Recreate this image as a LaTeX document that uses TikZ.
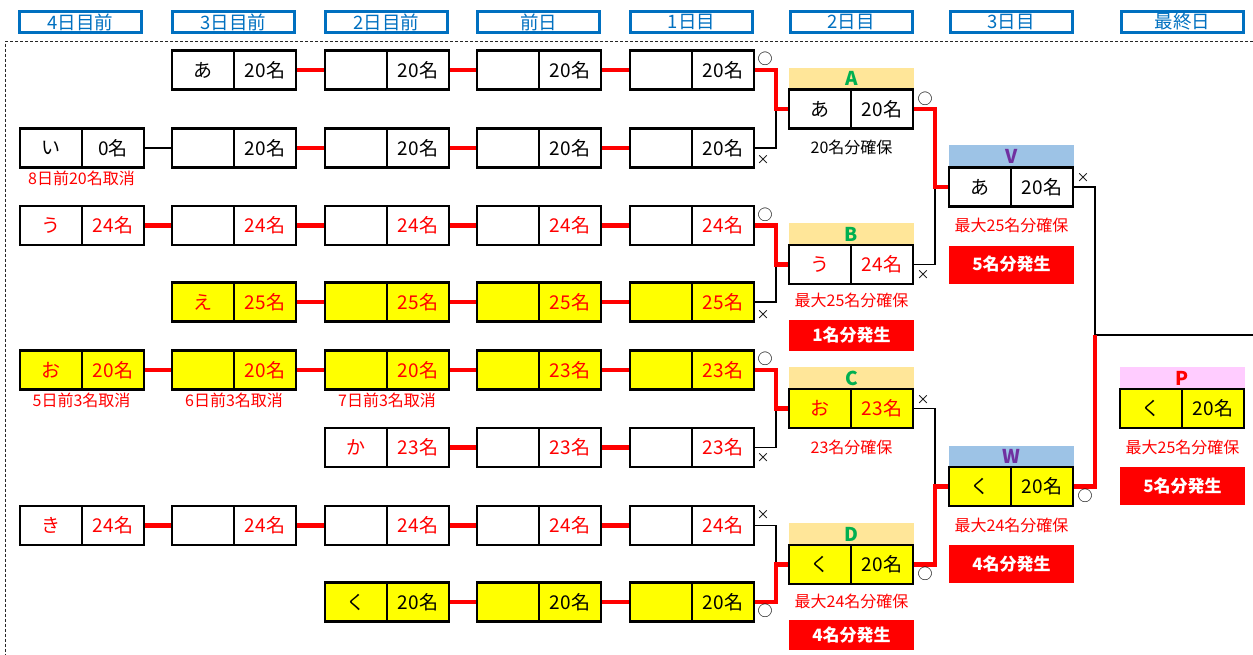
\documentclass[tikz,border=0pt]{standalone}
\usepackage{fontspec}
\setmainfont{Noto Sans CJK JP}
\definecolor{hblue}{HTML}{0070C0}
\definecolor{cyel}{HTML}{FFFF00}
\definecolor{hgold}{HTML}{FFE699}
\definecolor{hsky}{HTML}{9DC3E6}
\definecolor{hpink}{HTML}{FFCCFF}
\definecolor{lgreen}{HTML}{00B050}
\definecolor{lpurple}{HTML}{7030A0}
\definecolor{cred}{HTML}{FF0000}
\tikzset{
  cell/.style={draw=black, line width=2.2pt, minimum width=62pt, minimum height=39pt, inner sep=0pt, font=\fontsize{19}{21}\selectfont},
  hdr/.style={draw=hblue, line width=3pt, minimum width=122pt, minimum height=21pt, inner sep=0pt, text=hblue, font=\fontsize{18.5}{20}\selectfont},
  rhdr/.style={minimum width=125pt, minimum height=22pt, inner sep=0pt, font=\bfseries\fontsize{19}{20}\selectfont},
  result/.style={fill=cred, text=white, minimum width=125pt, inner sep=0pt, font=\bfseries\fontsize{17}{19}\selectfont},
  note/.style={inner sep=0pt, font=\fontsize{16}{18}\selectfont},
  okmark/.style={inner sep=0pt, font=\fontsize{15}{17}\selectfont},
  ngmark/.style={inner sep=0pt, font=\fontsize{13}{15}\selectfont},
  redc/.style={draw=cred, line width=4.5pt},
  blkc/.style={draw=black, line width=1.6pt}
}
\newcommand{\tbox}[7]{%
  \node[cell,fill=#4,text=#5] (#1L) at ({#2+31},#3) {#6};
  \node[cell,fill=#4,text=#5] (#1R) at ({#2+93},#3) {#7};}
\begin{document}
\begin{tikzpicture}[x=1pt,y=-1pt]
\useasboundingbox (0,0) rectangle (1253,654);
% dashed frame
\draw[black!85, line width=1pt, dash pattern=on 3pt off 2pt] (1253,41.5) -- (5,41.5) -- (5,654);
% day headers
\node[hdr] (h0) at (80.5,22) {4日目前};
\node[hdr] (h1) at (233.5,22) {3日目前};
\node[hdr] (h2) at (386.5,22) {2日目前};
\node[hdr] (h3) at (538.5,22) {前日};
\node[hdr] (h4) at (691.5,22) {1日目};
\node[hdr] (h5) at (851,22) {2日目};
\node[hdr] (h6) at (1011,22) {3日目};
\node[hdr] (h7) at (1182.5,22) {最終日};
% row 1
\tbox{r1c1}{172}{70}{white}{black}{あ}{20名}
\tbox{r1c2}{325}{70}{white}{black}{}{20名}
\tbox{r1c3}{477}{70}{white}{black}{}{20名}
\tbox{r1c4}{630}{70}{white}{black}{}{20名}
% row 2
\tbox{r2c0}{20}{148}{white}{black}{い}{0名}
\tbox{r2c1}{172}{148}{white}{black}{}{20名}
\tbox{r2c2}{325}{148}{white}{black}{}{20名}
\tbox{r2c3}{477}{148}{white}{black}{}{20名}
\tbox{r2c4}{630}{148}{white}{black}{}{20名}
% row 3
\tbox{r3c0}{20}{225.5}{white}{cred}{う}{24名}
\tbox{r3c1}{172}{225.5}{white}{cred}{}{24名}
\tbox{r3c2}{325}{225.5}{white}{cred}{}{24名}
\tbox{r3c3}{477}{225.5}{white}{cred}{}{24名}
\tbox{r3c4}{630}{225.5}{white}{cred}{}{24名}
% row 4
\tbox{r4c1}{172}{302}{cyel}{cred}{え}{25名}
\tbox{r4c2}{325}{302}{cyel}{cred}{}{25名}
\tbox{r4c3}{477}{302}{cyel}{cred}{}{25名}
\tbox{r4c4}{630}{302}{cyel}{cred}{}{25名}
% row 5
\tbox{r5c0}{20}{370}{cyel}{cred}{お}{20名}
\tbox{r5c1}{172}{370}{cyel}{cred}{}{20名}
\tbox{r5c2}{325}{370}{cyel}{cred}{}{20名}
\tbox{r5c3}{477}{370}{cyel}{cred}{}{23名}
\tbox{r5c4}{630}{370}{cyel}{cred}{}{23名}
% row 6
\tbox{r6c2}{325}{447.5}{white}{cred}{か}{23名}
\tbox{r6c3}{477}{447.5}{white}{cred}{}{23名}
\tbox{r6c4}{630}{447.5}{white}{cred}{}{23名}
% row 7
\tbox{r7c0}{20}{525.5}{white}{cred}{き}{24名}
\tbox{r7c1}{172}{525.5}{white}{cred}{}{24名}
\tbox{r7c2}{325}{525.5}{white}{cred}{}{24名}
\tbox{r7c3}{477}{525.5}{white}{cred}{}{24名}
\tbox{r7c4}{630}{525.5}{white}{cred}{}{24名}
% row 8
\tbox{r8c2}{325}{602}{cyel}{black}{く}{20名}
\tbox{r8c3}{477}{602}{cyel}{black}{}{20名}
\tbox{r8c4}{630}{602}{cyel}{black}{}{20名}
% round 2
\node[rhdr,fill=hgold,text=lgreen] (hA) at (851.5,78.5) {A};
\tbox{A}{789}{109}{white}{black}{あ}{20名}
\node[rhdr,fill=hgold,text=lgreen] (hB) at (851.5,234) {B};
\tbox{B}{789}{264.5}{white}{cred}{う}{24名}
\node[rhdr,fill=hgold,text=lgreen] (hC) at (851.5,378) {C};
\tbox{C}{789}{408.5}{cyel}{cred}{お}{23名}
\node[rhdr,fill=hgold,text=lgreen] (hD) at (851.5,534) {D};
\tbox{D}{789}{564.5}{cyel}{black}{く}{20名}
% round 3
\node[rhdr,fill=hsky,text=lpurple] (hV) at (1011.5,156) {V};
\tbox{V}{949}{187}{white}{black}{あ}{20名}
\node[rhdr,fill=hsky,text=lpurple] (hW) at (1011.5,456.5) {W};
\tbox{W}{949}{486.5}{cyel}{black}{く}{20名}
% final
\node[rhdr,fill=hpink,text=cred] (hP) at (1182.5,378) {P};
\tbox{P}{1120}{408.5}{cyel}{black}{く}{20名}
% notes
\node[note,text=cred] (n8) at (81.5,178) {8日前20名取消};
\node[note,text=cred] (n5) at (81.5,400) {5日前3名取消};
\node[note,text=cred] (n6) at (234,400) {6日前3名取消};
\node[note,text=cred] (n7) at (387,400) {7日前3名取消};
\node[note,text=black] (nA) at (851.5,147) {20名分確保};
\node[note,text=cred] (nB) at (851.5,300) {最大25名分確保};
\node[result,minimum height=31pt] (rB) at (851.5,335.5) {1名分発生};
\node[note,text=cred] (nC) at (851.5,447) {23名分確保};
\node[note,text=cred] (nD) at (851.5,601) {最大24名分確保};
\node[result,minimum height=30pt] (rD) at (851.5,635) {4名分発生};
\node[note,text=cred] (nV) at (1011.5,225) {最大25名分確保};
\node[result,minimum height=38pt] (rV) at (1011.5,264.5) {5名分発生};
\node[note,text=cred] (nW) at (1011.5,525) {最大24名分確保};
\node[result,minimum height=38pt] (rW) at (1011.5,564) {4名分発生};
\node[note,text=cred] (nP) at (1182.5,447) {最大25名分確保};
\node[result,minimum height=38pt] (rP) at (1182.5,486) {5名分発生};
% horizontal connectors
\draw[blkc] (r2c0R.east) -- (r2c1L.west);
\foreach \r/\a/\b in {1/1/2,1/2/3,1/3/4,2/1/2,2/2/3,2/3/4,3/0/1,3/1/2,3/2/3,3/3/4,4/1/2,4/2/3,4/3/4,5/0/1,5/1/2,5/2/3,5/3/4,6/2/3,6/3/4,7/0/1,7/1/2,7/2/3,7/3/4,8/2/3,8/3/4}
  \draw[redc] (r\r c\a R.east) -- (r\r c\b L.west);
% brackets
\coordinate (ja) at (776,0);
\coordinate (jb) at (935,0);
\coordinate (jf) at (1095,335);
\coordinate (fend) at (1253,335);
\draw[blkc] (r2c4R.east) -| (ja |- AL.west);
\draw[blkc] (r4c4R.east) -| (ja |- BL.west);
\draw[blkc] (r6c4R.east) -| (ja |- CL.west);
\draw[blkc] (r7c4R.east) -| (ja |- DL.west);
\draw[blkc] (BR.east) -| (jb |- VL.west);
\draw[blkc] (CR.east) -| (jb |- WL.west);
\draw[blkc] (VR.east) -| (jf) -- (fend);
\draw[redc] (r1c4R.east) -| (ja |- AL.west) -- (AL.west);
\draw[redc] (r3c4R.east) -| (ja |- BL.west) -- (BL.west);
\draw[redc] (r5c4R.east) -| (ja |- CL.west) -- (CL.west);
\draw[redc] (r8c4R.east) -| (ja |- DL.west) -- (DL.west);
\draw[redc] (AR.east) -| (jb |- VL.west) -- (VL.west);
\draw[redc] (DR.east) -| (jb |- WL.west) -- (WL.west);
\draw[redc] (WR.east) -| (jf);
% marks
\node[okmark] (m1) at (765,59) {○};
\node[ngmark] (m2) at (763,160) {×};
\node[okmark] (m3) at (765,215) {○};
\node[ngmark] (m4) at (763,315) {×};
\node[okmark] (m5) at (765,359) {○};
\node[ngmark] (m6) at (763,458) {×};
\node[ngmark] (m7) at (763,515) {×};
\node[okmark] (m8) at (765,611) {○};
\node[okmark] (mA) at (925,99) {○};
\node[ngmark] (mB) at (923,275) {×};
\node[ngmark] (mC) at (923,400) {×};
\node[okmark] (mD) at (925,574) {○};
\node[ngmark] (mV) at (1083,178) {×};
\node[okmark] (mW) at (1085,496) {○};
\end{tikzpicture}
\end{document}
